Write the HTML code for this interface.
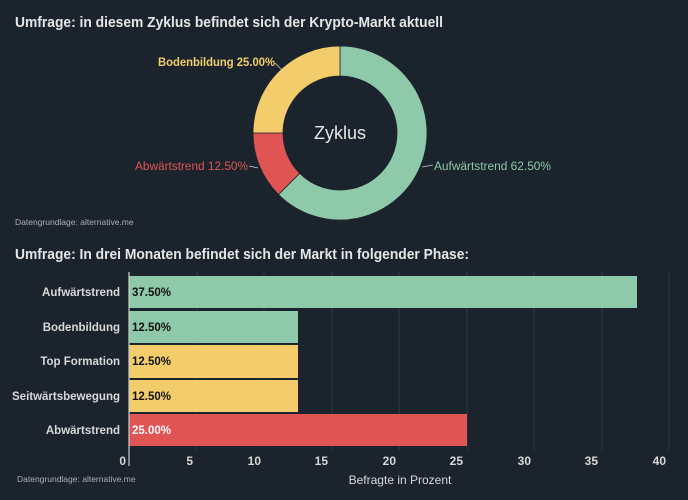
<!DOCTYPE html>
<html><head><meta charset="utf-8"><style>
body{margin:0;background:#1b242c;}
svg{display:block;font-family:"Liberation Sans",sans-serif;}
</style></head><body>
<svg width="688" height="500" viewBox="0 0 688 500">
<rect width="688" height="500" fill="#1b242c"/>
<text x="15" y="27" fill="#e6e6e6" font-size="14.5" font-weight="bold" textLength="428" lengthAdjust="spacingAndGlyphs">Umfrage: in diesem Zyklus befindet sich der Krypto-Markt aktuell</text>
<g transform="translate(340,133)">
<path d="M0,-87 A87,87 0 1 1 -61.5,61.5 L-40.3,40.3 A57,57 0 1 0 0,-57 Z" fill="#8ec9a9" stroke="#1b242c" stroke-width="0.8"/>
<path d="M-61.5,61.5 A87,87 0 0 1 -87,0 L-57,0 A57,57 0 0 0 -40.3,40.3 Z" fill="#e05454" stroke="#1b242c" stroke-width="0.8"/>
<path d="M-87,0 A87,87 0 0 1 0,-87 L0,-57 A57,57 0 0 0 -57,0 Z" fill="#f3cd6b" stroke="#1b242c" stroke-width="0.8"/>
<text x="0" y="6" text-anchor="middle" fill="#e6e6e6" font-size="18">Zyklus</text>
</g>
<path d="M275,63 L282,70" stroke="#ccc" stroke-width="0.8"/>
<path d="M249,166 L258,168" stroke="#ccc" stroke-width="0.8"/>
<path d="M422,167 L433,165" stroke="#ccc" stroke-width="0.8"/>
<text x="275" y="66" text-anchor="end" fill="#f3cd6b" font-size="11.5" font-weight="bold" textLength="117" lengthAdjust="spacingAndGlyphs">Bodenbildung 25.00%</text>
<text x="248" y="170" text-anchor="end" fill="#e05454" font-size="11.5" textLength="113" lengthAdjust="spacingAndGlyphs">Abwärtstrend 12.50%</text>
<text x="434" y="170" fill="#8ec9a9" font-size="11.5" textLength="117" lengthAdjust="spacingAndGlyphs">Aufwärtstrend 62.50%</text>
<text x="15" y="225" fill="#aab0b5" font-size="8.5">Datengrundlage: alternative.me</text>
<text x="15" y="259" fill="#e6e6e6" font-size="14.5" font-weight="bold" textLength="454" lengthAdjust="spacingAndGlyphs">Umfrage: In drei Monaten befindet sich der Markt in folgender Phase:</text>
<g stroke="#2e3a44" stroke-width="1">
<line x1="197" y1="272" x2="197" y2="450"/><line x1="264" y1="272" x2="264" y2="450"/>
<line x1="332" y1="272" x2="332" y2="450"/><line x1="399" y1="272" x2="399" y2="450"/>
<line x1="467" y1="272" x2="467" y2="450"/><line x1="534" y1="272" x2="534" y2="450"/>
<line x1="602" y1="272" x2="602" y2="450"/><line x1="669" y1="272" x2="669" y2="450"/>
</g>
<rect x="129" y="276" width="508" height="32" fill="#8ec9a9"/>
<rect x="129" y="311" width="169" height="32" fill="#8ec9a9"/>
<rect x="129" y="345" width="169" height="33" fill="#f3cd6b"/>
<rect x="129" y="380" width="169" height="32" fill="#f3cd6b"/>
<rect x="129" y="414" width="338" height="32" fill="#e05454"/>
<line x1="129" y1="272" x2="129" y2="466" stroke="#ccc" stroke-width="1.2"/>
<g font-size="11.5" font-weight="bold">
<text x="132" y="296" fill="#111">37.50%</text>
<text x="132" y="331" fill="#111">12.50%</text>
<text x="132" y="365" fill="#111">12.50%</text>
<text x="132" y="400" fill="#111">12.50%</text>
<text x="132" y="434" fill="#fff">25.00%</text>
</g>
<g font-size="11.5" font-weight="bold" fill="#d8d8d8" text-anchor="end">
<text x="120" y="296">Aufwärtstrend</text>
<text x="120" y="331">Bodenbildung</text>
<text x="120" y="365">Top Formation</text>
<text x="120" y="400">Seitwärtsbewegung</text>
<text x="120" y="434">Abwärtstrend</text>
</g>
<g font-size="12" font-weight="bold" fill="#d8d8d8" text-anchor="end">
<text x="126" y="465">0</text><text x="193" y="465">5</text><text x="261" y="465">10</text>
<text x="328" y="465">15</text><text x="396" y="465">20</text><text x="463" y="465">25</text>
<text x="531" y="465">30</text><text x="598" y="465">35</text><text x="666" y="465">40</text>
</g>
<text x="400" y="484" text-anchor="middle" fill="#d8d8d8" font-size="12">Befragte in Prozent</text>
<text x="17" y="482" fill="#aab0b5" font-size="8.5">Datengrundlage: alternative.me</text>
</svg>
</body></html>
